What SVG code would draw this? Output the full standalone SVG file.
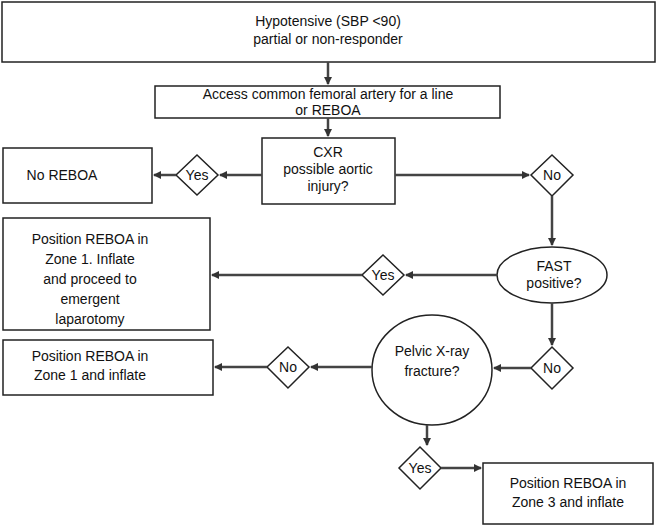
<svg xmlns="http://www.w3.org/2000/svg" width="658" height="527" viewBox="0 0 658 527">
<defs><marker id="ah" markerWidth="8" markerHeight="8" refX="7" refY="4" orient="auto" markerUnits="userSpaceOnUse"><path d="M0,0 L8,4 L0,8 Z" fill="#333"/></marker></defs>
<style>
.b{fill:#fff;stroke:#222;stroke-width:1.5}
.t{font-family:"Liberation Sans",Arial,sans-serif;font-size:14px;fill:#111;text-anchor:middle}
.c{stroke:#444;stroke-width:2.5;fill:none;marker-end:url(#ah)}
</style>
<rect width="658" height="527" fill="#fff"/>
<g id="n1"><rect class="b" x="2" y="2" width="653" height="60"/><text class="t" x="328" y="26">Hypotensive (SBP &lt;90)</text><text class="t" x="328" y="44">partial or non-responder</text></g>
<g id="n2"><rect class="b" x="155" y="86" width="345" height="32"/><text class="t" x="328" y="99">Access common femoral artery for a line</text><text class="t" x="328" y="115">or REBOA</text></g>
<g id="n3"><rect class="b" x="262" y="138" width="133" height="66"/><text class="t" x="328" y="157">CXR</text><text class="t" x="328" y="174">possible aortic</text><text class="t" x="328" y="191">injury?</text></g>
<g id="d1"><polygon class="b" points="197,155 218,175 197,195 176,175"/><text class="t" x="197" y="180">Yes</text></g>
<g id="n4"><rect class="b" x="3" y="148" width="149" height="55"/><text class="t" x="62" y="180">No REBOA</text></g>
<g id="d2"><polygon class="b" points="552,155 573,175 552,196 531,175"/><text class="t" x="552" y="180">No</text></g>
<g id="n5"><ellipse class="b" cx="552" cy="275" rx="55" ry="28"/><text class="t" x="554" y="271">FAST</text><text class="t" x="554" y="288">positive?</text></g>
<g id="d3"><polygon class="b" points="383,255 404,275 383,295 362,275"/><text class="t" x="383" y="280">Yes</text></g>
<g id="n6"><rect class="b" x="3" y="218" width="207" height="112"/><text class="t" x="90" y="244">Position REBOA in</text><text class="t" x="90" y="264">Zone 1. Inflate</text><text class="t" x="90" y="284">and proceed to</text><text class="t" x="90" y="304">emergent</text><text class="t" x="90" y="324">laparotomy</text></g>
<g id="d4"><polygon class="b" points="552,347 573,368 552,389 531,368"/><text class="t" x="552" y="373">No</text></g>
<g id="n7"><ellipse class="b" cx="432" cy="370" rx="60" ry="55"/><text class="t" x="432" y="356">Pelvic X-ray</text><text class="t" x="432" y="376">fracture?</text></g>
<g id="d5"><polygon class="b" points="288,347 309,367 288,388 267,367"/><text class="t" x="288" y="372">No</text></g>
<g id="n8"><rect class="b" x="3" y="340" width="210" height="55"/><text class="t" x="90" y="361">Position REBOA in</text><text class="t" x="90" y="380">Zone 1 and inflate</text></g>
<g id="d6"><polygon class="b" points="420,447 441,468 420,489 399,468"/><text class="t" x="420" y="473">Yes</text></g>
<g id="n9"><rect class="b" x="483" y="463" width="170" height="61"/><text class="t" x="568" y="488">Position REBOA in</text><text class="t" x="568" y="507">Zone 3 and inflate</text></g>
<g id="connectors">
<path class="c" d="M328,62 V84"/>
<path class="c" d="M328,118 V136"/>
<path class="c" d="M262,175 H220"/>
<path class="c" d="M176,175 H154"/>
<path class="c" d="M395,175 H529"/>
<path class="c" d="M552,196 V245"/>
<path class="c" d="M497,275 H406"/>
<path class="c" d="M362,275 H212"/>
<path class="c" d="M552,303 V345"/>
<path class="c" d="M531,368 H494"/>
<path class="c" d="M372,367 H311"/>
<path class="c" d="M267,367 H215"/>
<path class="c" d="M427,425 V445"/>
<path class="c" d="M441,468 H481"/>
</g>
</svg>
